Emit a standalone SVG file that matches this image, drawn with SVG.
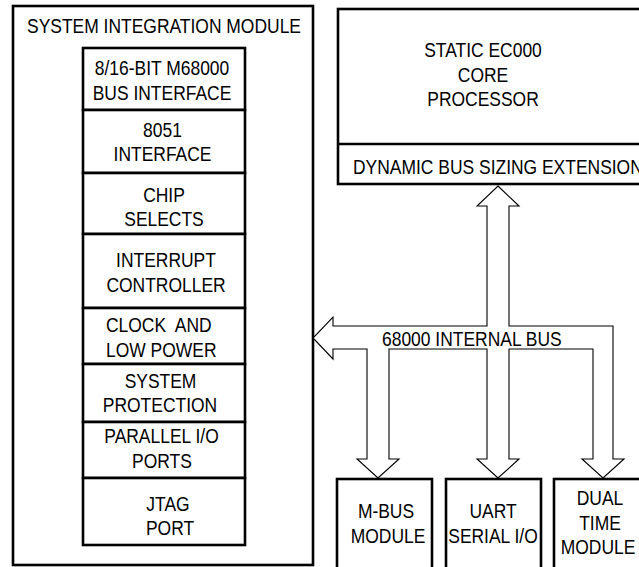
<svg xmlns="http://www.w3.org/2000/svg" width="639" height="567" viewBox="0 0 639 567">
<style>
.box{fill:#fff;stroke:#000;stroke-width:2.6}
.t{font-family:"Liberation Sans",Arial,sans-serif;font-size:19.4px;fill:#000;text-anchor:middle}
.l{text-anchor:start}
.bus{fill:#fff;stroke:#000;stroke-width:1.1;stroke-linejoin:miter}
</style>
<rect width="639" height="567" fill="#fff"/>
<g id="sim">
<rect class="box" x="13" y="6" width="300" height="559"/>
<text class="t" transform="translate(164,33) scale(0.9,1)">SYSTEM INTEGRATION MODULE</text>
</g>
<g id="bus-interface">
<rect class="box" x="83" y="48" width="162" height="62"/>
<text class="t" transform="translate(162,75) scale(0.9,1)">8/16-BIT M68000</text>
<text class="t" transform="translate(162,100) scale(0.9,1)">BUS INTERFACE</text>
</g>
<g id="if8051">
<rect class="box" x="83" y="110" width="162" height="63"/>
<text class="t" transform="translate(162.5,137) scale(0.9,1)">8051</text>
<text class="t" transform="translate(162.5,161) scale(0.9,1)">INTERFACE</text>
</g>
<g id="chip-selects">
<rect class="box" x="83" y="173" width="162" height="61"/>
<text class="t" transform="translate(164,202) scale(0.9,1)">CHIP</text>
<text class="t" transform="translate(164,226) scale(0.9,1)">SELECTS</text>
</g>
<g id="interrupt">
<rect class="box" x="83" y="234" width="162" height="74"/>
<text class="t" transform="translate(166,267) scale(0.9,1)">INTERRUPT</text>
<text class="t" transform="translate(166,292) scale(0.9,1)">CONTROLLER</text>
</g>
<g id="clock">
<rect class="box" x="83" y="308" width="162" height="56"/>
<text class="t l" transform="translate(106,332) scale(0.9,1)" xml:space="preserve">CLOCK  AND</text>
<text class="t l" transform="translate(106,357) scale(0.9,1)">LOW POWER</text>
</g>
<g id="protection">
<rect class="box" x="83" y="364" width="162" height="58"/>
<text class="t" transform="translate(160.5,388) scale(0.9,1)">SYSTEM</text>
<text class="t" transform="translate(160,412) scale(0.9,1)">PROTECTION</text>
</g>
<g id="parallel">
<rect class="box" x="83" y="422" width="162" height="56"/>
<text class="t" transform="translate(161.5,443) scale(0.9,1)">PARALLEL I/O</text>
<text class="t" transform="translate(162,468) scale(0.9,1)">PORTS</text>
</g>
<g id="jtag">
<rect class="box" x="83" y="478" width="162" height="67"/>
<text class="t" transform="translate(168,511) scale(0.9,1)">JTAG</text>
<text class="t" transform="translate(170,535) scale(0.9,1)">PORT</text>
</g>
<g id="cpu">
<rect class="box" x="338" y="9" width="320" height="175"/>
<line x1="338" y1="144" x2="658" y2="144" stroke="#000" stroke-width="2.6"/>
<text class="t" transform="translate(483,57) scale(0.9,1)">STATIC EC000</text>
<text class="t" transform="translate(483,82) scale(0.9,1)">CORE</text>
<text class="t" transform="translate(483,106) scale(0.9,1)">PROCESSOR</text>
<text class="t l" transform="translate(353,174) scale(0.9,1)">DYNAMIC BUS SIZING EXTENSION</text>
</g>
<g id="connectors">
<polygon class="bus" points="498,186 519,206 509,206 509,326 613,326 613,459 624,459 603,478 582,459 593,459 593,349 509,349 509,459 519,459 498,478 477,459 487,459 487,349 389,349 389,459 399,459 378,478 357,459 367,459 367,349 333,349 333,359 313,338 333,317 333,326 487,326 487,206 477,206"/>
<text class="t l" transform="translate(382,346) scale(0.9,1)">68000 INTERNAL BUS</text>
</g>
<g id="mbus">
<rect class="box" x="337" y="479" width="95" height="100"/>
<text class="t" transform="translate(386,518) scale(0.9,1)">M-BUS</text>
<text class="t" transform="translate(388,543) scale(0.9,1)">MODULE</text>
</g>
<g id="uart">
<rect class="box" x="446" y="479" width="95" height="100"/>
<text class="t" transform="translate(493,518) scale(0.9,1)">UART</text>
<text class="t" transform="translate(493,543) scale(0.9,1)">SERIAL I/O</text>
</g>
<g id="dual">
<rect class="box" x="554" y="479" width="100" height="100"/>
<text class="t" transform="translate(600,505) scale(0.9,1)">DUAL</text>
<text class="t" transform="translate(600,530) scale(0.9,1)">TIME</text>
<text class="t" transform="translate(598,554) scale(0.9,1)">MODULE</text>
</g>
</svg>
